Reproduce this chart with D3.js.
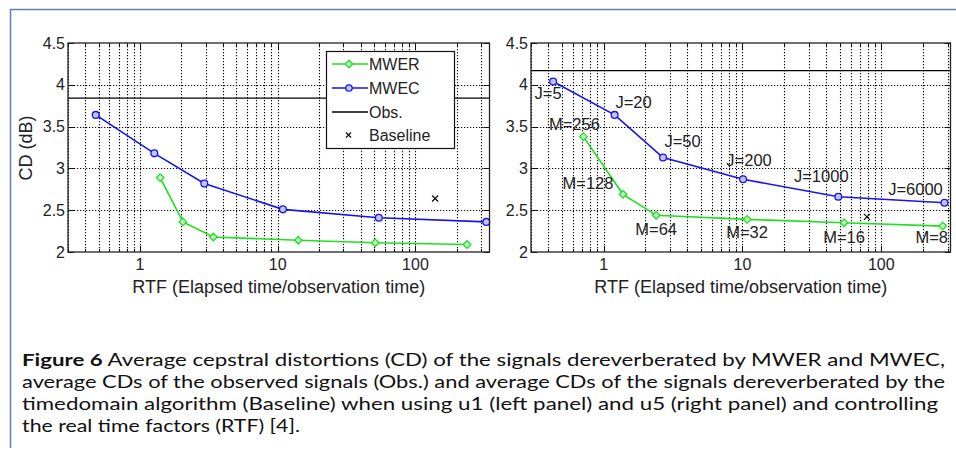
<!DOCTYPE html>
<html>
<head>
<meta charset="utf-8">
<script src="https://cdn.jsdelivr.net/npm/d3@7"></script>
<style>
  body { margin: 0; background: #fff; }
  svg { display: block; }
  .tick-label { font-family: "Liberation Sans", Arial, sans-serif; font-size: 16px; fill: #222; }
  .axis-title { font-family: "Liberation Sans", Arial, sans-serif; font-size: 18px; fill: #222; }
  .legend-text { font-family: "Liberation Sans", Arial, sans-serif; font-size: 16px; fill: #222; }
  .note { font-family: "Liberation Sans", Arial, sans-serif; font-size: 16.5px; fill: #222; }
  .caption { font-family: Lato, "DejaVu Sans", sans-serif; font-size: 17.5px; fill: #111; }
</style>
</head>
<body>
<div id="chart"></div>
<script>
// values
const yTicks = [2, 2.5, 3, 3.5, 4, 4.5];
const xTickValues = [1, 10, 100];

const leftMwerRtf = [1.40, 2.05, 3.41, 14.1, 51, 237];
const leftMwerCd = [2.89, 2.36, 2.18, 2.14, 2.11, 2.09];
const leftMwecRtf = [0.477, 1.27, 2.93, 10.9, 54.2, 327];
const leftMwecCd = [3.64, 3.18, 2.82, 2.51, 2.41, 2.36];
const leftObs = 3.84;
const leftBaseline = [139, 2.64];

const rightMwerRtf = [0.715, 1.38, 2.39, 10.8, 53.9, 277];
const rightMwerCd = [3.38, 2.69, 2.44, 2.39, 2.35, 2.31];
const rightMwecRtf = [0.433, 1.2, 2.68, 10.1, 49, 285];
const rightMwecCd = [4.04, 3.64, 3.13, 2.87, 2.66, 2.59];
const rightObs = 4.17;
const rightBaseline = [78.8, 2.42];

const mwerLabels = ['M=256', 'M=128', 'M=64', 'M=32', 'M=16', 'M=8'];
const mwecLabels = ['J=5', 'J=20', 'J=50', 'J=200', 'J=1000', 'J=6000'];
// where each label sits relative to its point (px)
const mwerLabelOffsets = [[-9, -13], [-35, -11], [0, 14], [0, 13], [0, 14], [-11, 11]];
const mwecLabelOffsets = [[-5, 12], [19, -13], [19.5, -17], [6, -19], [-17, -21], [-29, -14]];

const legendNames = ['MWER', 'MWEC', 'Obs.', 'Baseline'];
const captionLines = [
    ['Figure 6', ' Average cepstral distortions (CD) of the signals dereverberated by MWER and MWEC,'],
    ['', 'average CDs of the observed signals (Obs.) and average CDs of the signals dereverberated by the'],
    ['', 'timedomain algorithm (Baseline) when using u1 (left panel) and u5 (right panel) and controlling'],
    ['', 'the real time factors (RTF) [4].']
];

const GREEN = '#1ee01e';
const BLUE = '#1414f0';
const W = 956, H = 452;

const svg = d3.select('#chart').append('svg').attr('width', W).attr('height', H);

// figure frame (top + left rule)
svg.append('path').attr('d', 'M10.5,448 V9.5 H956')
    .attr('fill', 'none').attr('stroke', '#5d7fae').attr('stroke-width', 1.5);

function minorTicks(domain) {
    const out = [];
    for (let e = -1; e <= 3; e++) {
        for (let m = 1; m < 10; m++) {
            const v = m * Math.pow(10, e);
            if (v >= domain[0] && v <= domain[1]) out.push(v);
        }
    }
    return out;
}

function drawPanel(cfg) {
    const x = d3.scaleLog().domain(cfg.xDomain).range(cfg.xRange);
    const y = d3.scaleLinear().domain([2, 4.5]).range([252, 43]);
    const g = svg.append('g');
    const x0 = cfg.xRange[0], x1 = cfg.xRange[1], y0 = y(2), y1 = y(4.5);

    const allX = minorTicks(cfg.xDomain);
    const grid = g.append('g').attr('stroke', '#000').attr('stroke-width', 1.1)
        .attr('stroke-dasharray', '1.2,1.8');
    grid.selectAll('line.vx').data(allX).enter().append('line')
        .attr('x1', (d) => Math.round(x(d)) + 0.5).attr('x2', (d) => Math.round(x(d)) + 0.5)
        .attr('y1', y1).attr('y2', y0);
    grid.selectAll('line.hy').data(yTicks.slice(1, -1)).enter().append('line')
        .attr('x1', x0).attr('x2', x1)
        .attr('y1', (d) => Math.round(y(d)) + 0.5).attr('y2', (d) => Math.round(y(d)) + 0.5);

    // inner tick marks
    const tk = g.append('g').attr('stroke', '#111').attr('stroke-width', 1);
    allX.forEach((d) => {
        const len = xTickValues.indexOf(d) >= 0 ? 6 : 3;
        const px = Math.round(x(d)) + 0.5;
        tk.append('line').attr('x1', px).attr('x2', px).attr('y1', y0).attr('y2', y0 - len);
        tk.append('line').attr('x1', px).attr('x2', px).attr('y1', y1).attr('y2', y1 + len);
    });
    yTicks.forEach((d) => {
        const py = Math.round(y(d)) + 0.5;
        tk.append('line').attr('x1', x0).attr('x2', x0 + 6).attr('y1', py).attr('y2', py);
        tk.append('line').attr('x1', x1).attr('x2', x1 - 6).attr('y1', py).attr('y2', py);
    });

    // axis labels
    g.selectAll('text.yt').data(yTicks).enter().append('text')
        .attr('class', 'tick-label').attr('text-anchor', 'end')
        .attr('dominant-baseline', 'central')
        .attr('x', x0 - 3).attr('y', (d) => y(d))
        .text((d) => d);
    g.selectAll('text.xt').data(xTickValues).enter().append('text')
        .attr('class', 'tick-label').attr('text-anchor', 'middle')
        .attr('dominant-baseline', 'central')
        .attr('x', (d) => x(d)).attr('y', 264)
        .text((d) => d);
    g.append('text').attr('class', 'axis-title').attr('text-anchor', 'middle')
        .attr('dominant-baseline', 'central')
        .attr('x', (x0 + x1) / 2).attr('y', 287)
        .text('RTF (Elapsed time/observation time)');

    // observed signal level
    g.append('line').attr('x1', x0).attr('x2', x1)
        .attr('y1', y(cfg.obs)).attr('y2', y(cfg.obs))
        .attr('stroke', '#000').attr('stroke-width', 1.3);

    const line = d3.line().x((d) => x(d[0])).y((d) => y(d[1]));
    const mwer = d3.zip(cfg.mwerRtf, cfg.mwerCd);
    const mwec = d3.zip(cfg.mwecRtf, cfg.mwecCd);

    g.append('path').datum(mwer).attr('d', line)
        .attr('fill', 'none').attr('stroke', GREEN).attr('stroke-width', 1.6);
    g.append('path').datum(mwec).attr('d', line)
        .attr('fill', 'none').attr('stroke', BLUE).attr('stroke-width', 1.6);

    const diamond = d3.symbol().type(d3.symbolDiamond2).size(36);
    g.selectAll('path.mwer').data(mwer).enter().append('path')
        .attr('d', diamond)
        .attr('transform', (d) => 'translate(' + x(d[0]) + ',' + y(d[1]) + ')')
        .attr('fill', '#c8f5c8').attr('stroke', GREEN).attr('stroke-width', 1.3);
    g.selectAll('circle.mwec').data(mwec).enter().append('circle')
        .attr('cx', (d) => x(d[0])).attr('cy', (d) => y(d[1])).attr('r', 3.4)
        .attr('fill', '#c4c4f5').attr('stroke', BLUE).attr('stroke-width', 1.3);

    // baseline cross
    const bx = x(cfg.baseline[0]), by = y(cfg.baseline[1]);
    g.append('path').attr('d', 'M' + (bx - 3) + ',' + (by - 3) + 'L' + (bx + 3) + ',' + (by + 3)
        + 'M' + (bx - 3) + ',' + (by + 3) + 'L' + (bx + 3) + ',' + (by - 3))
        .attr('stroke', '#111').attr('stroke-width', 1.3);

    if (cfg.labels) {
        g.selectAll('text.mwerl').data(mwer).enter().append('text')
            .attr('class', 'note').attr('text-anchor', 'middle').attr('dominant-baseline', 'central')
            .attr('x', (d, i) => x(d[0]) + mwerLabelOffsets[i][0])
            .attr('y', (d, i) => y(d[1]) + mwerLabelOffsets[i][1])
            .text((d, i) => mwerLabels[i]);
        g.selectAll('text.mwecl').data(mwec).enter().append('text')
            .attr('class', 'note').attr('text-anchor', 'middle').attr('dominant-baseline', 'central')
            .attr('x', (d, i) => x(d[0]) + mwecLabelOffsets[i][0])
            .attr('y', (d, i) => y(d[1]) + mwecLabelOffsets[i][1])
            .text((d, i) => mwecLabels[i]);
    }

    if (cfg.legend) {
        const lg = g.append('g');
        lg.append('rect').attr('x', 326.5).attr('y', 51.5).attr('width', 128).attr('height', 97)
            .attr('fill', '#fff').attr('stroke', '#111').attr('stroke-width', 1.2);
        const rows = [64, 88, 112, 135];
        legendNames.forEach((name, i) => {
            const ry = rows[i];
            if (i < 3) {
                lg.append('line').attr('x1', 332).attr('x2', 368).attr('y1', ry).attr('y2', ry)
                    .attr('stroke', [GREEN, BLUE, '#000'][i]).attr('stroke-width', 1.4);
            }
            if (i === 0) {
                lg.append('path').attr('d', diamond).attr('transform', 'translate(349,' + ry + ')')
                    .attr('fill', '#c8f5c8').attr('stroke', GREEN).attr('stroke-width', 1.3);
            } else if (i === 1) {
                lg.append('circle').attr('cx', 349).attr('cy', ry).attr('r', 3.2)
                    .attr('fill', '#c4c4f5').attr('stroke', BLUE).attr('stroke-width', 1.3);
            } else if (i === 3) {
                lg.append('path').attr('d', 'M346,' + (ry - 2.5) + 'L351,' + (ry + 2.5) + 'M346,' + (ry + 2.5) + 'L351,' + (ry - 2.5))
                    .attr('stroke', '#111').attr('stroke-width', 1.3);
            }
            lg.append('text').attr('class', 'legend-text').attr('x', 369).attr('y', ry)
                .attr('dominant-baseline', 'central').text(name);
        });
    }

    // plot box
    g.append('rect').attr('x', x0).attr('y', y1).attr('width', x1 - x0).attr('height', y0 - y1)
        .attr('fill', 'none').attr('stroke', '#222').attr('stroke-width', 1.3);

    return g;
}

const left = drawPanel({
    xDomain: [0.3, 345], xRange: [68, 489.5],
    mwerRtf: leftMwerRtf, mwerCd: leftMwerCd,
    mwecRtf: leftMwecRtf, mwecCd: leftMwecCd,
    obs: leftObs, baseline: leftBaseline,
    legend: true, labels: false
});
drawPanel({
    xDomain: [0.3, 315], xRange: [531, 950.5],
    mwerRtf: rightMwerRtf, mwerCd: rightMwerCd,
    mwecRtf: rightMwecRtf, mwecCd: rightMwecCd,
    obs: rightObs, baseline: rightBaseline,
    legend: false, labels: true
});

left.append('text').attr('class', 'axis-title').attr('text-anchor', 'middle')
    .attr('dominant-baseline', 'central')
    .attr('transform', 'translate(26,148) rotate(-90)')
    .text('CD (dB)');

// caption
const capWidths = [923, 923, 916, 278];
captionLines.forEach((parts, i) => {
    const t = svg.append('text').attr('class', 'caption')
        .attr('x', 22).attr('y', 366 + i * 22)
        .attr('textLength', capWidths[i]).attr('lengthAdjust', 'spacingAndGlyphs');
    if (parts[0]) t.append('tspan').attr('font-weight', 'bold').text(parts[0]);
    t.append('tspan').text(parts[1]);
});
</script>
</body>
</html>
